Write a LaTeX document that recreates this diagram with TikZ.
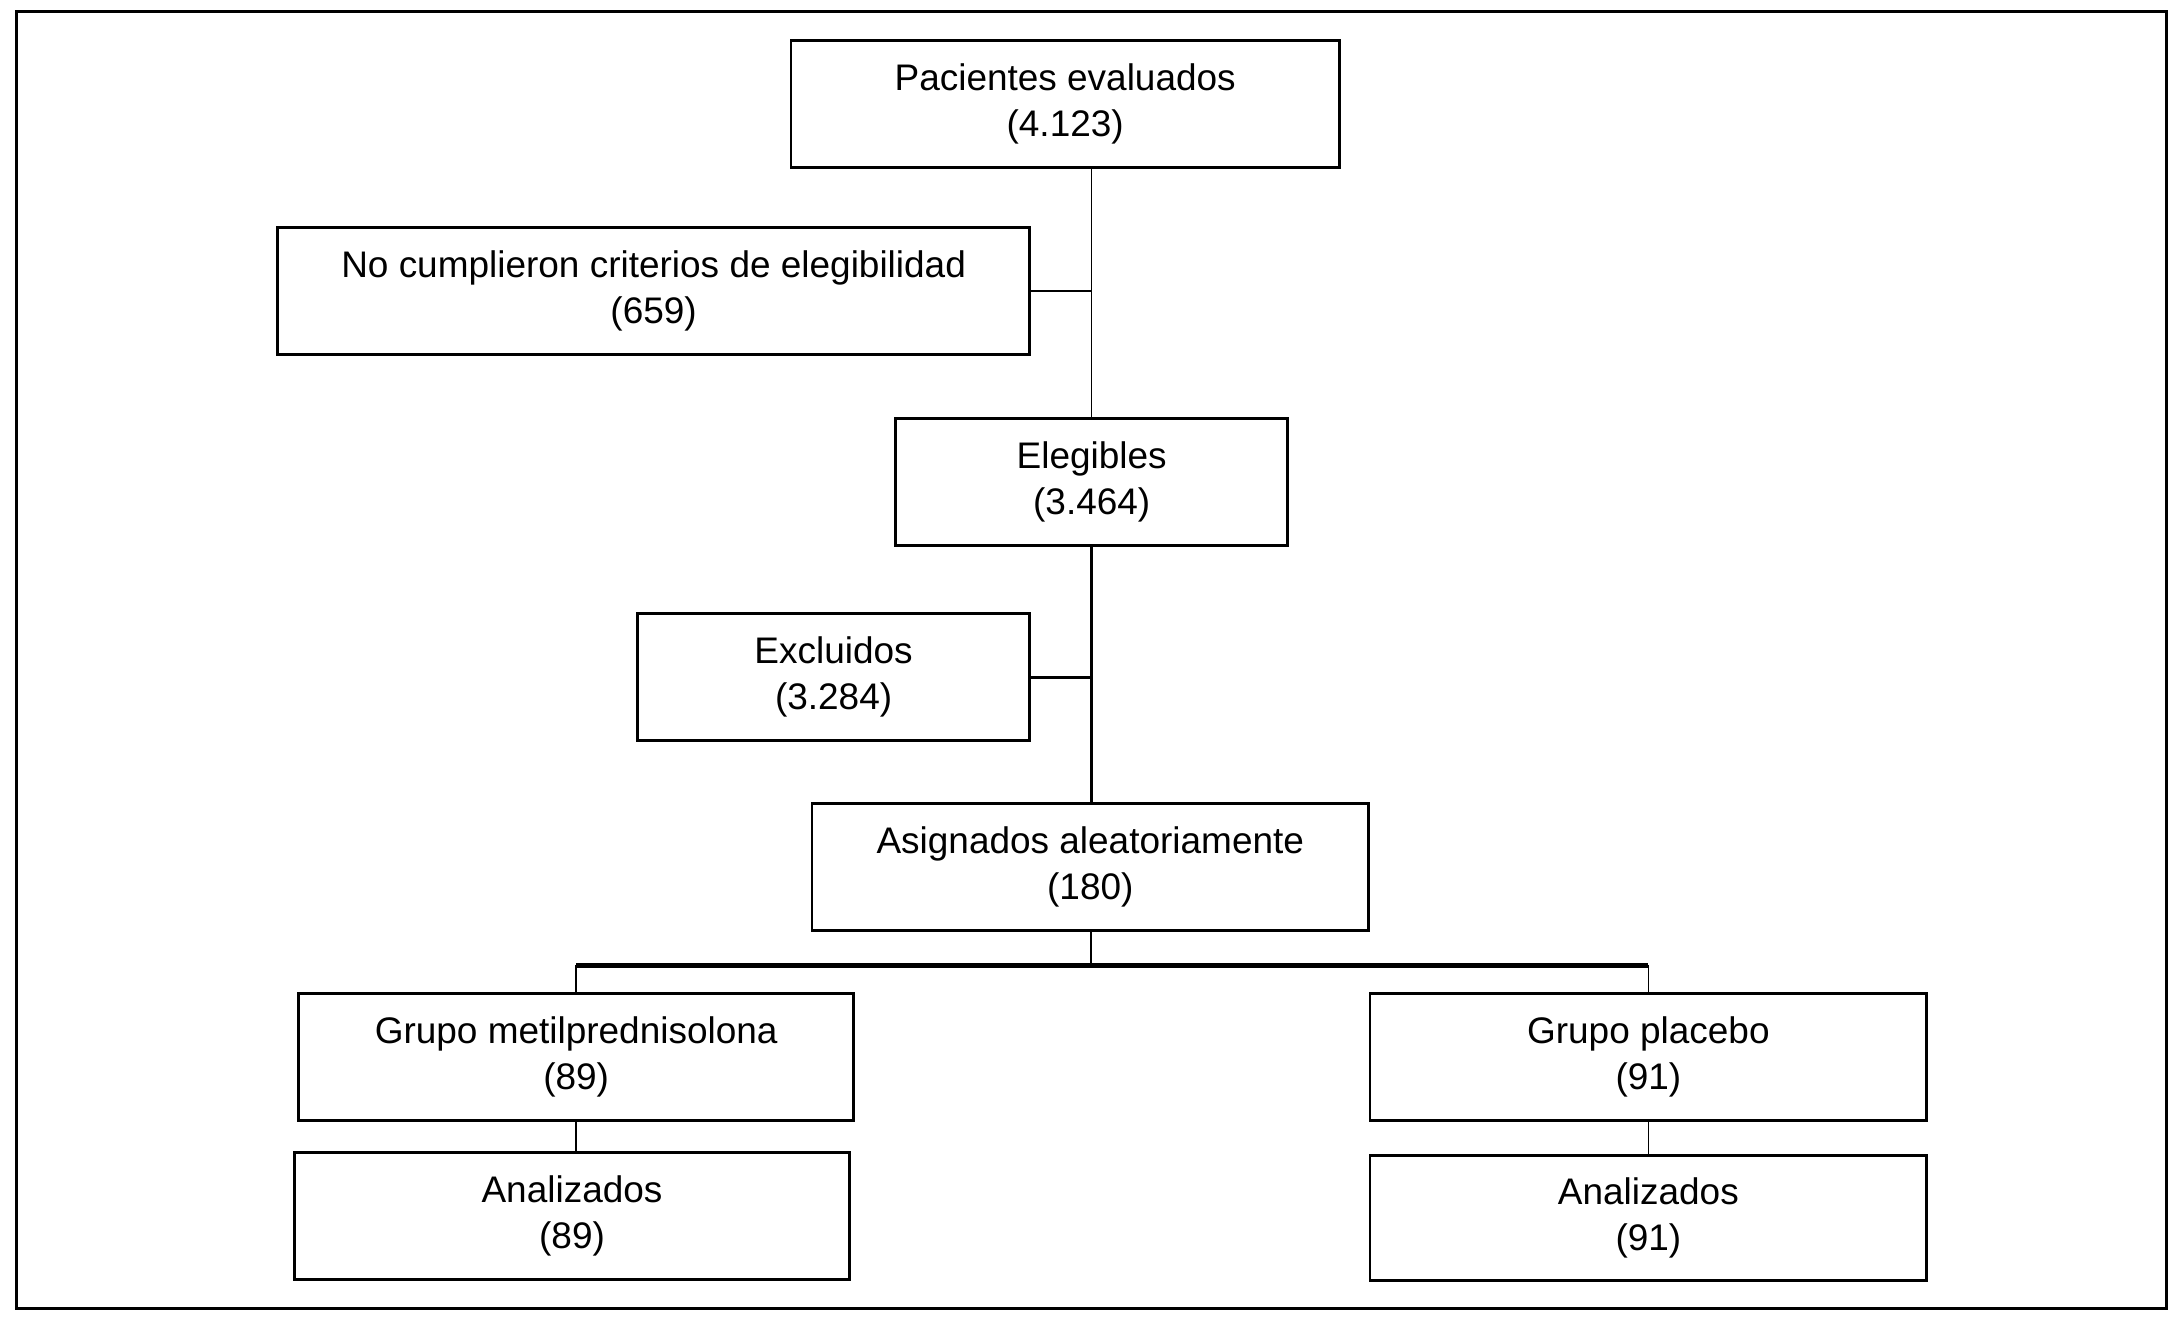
\documentclass[tikz,border=0pt]{standalone}
\usepackage{fontspec}
\setmainfont{Liberation Sans}
\begin{document}
\begin{tikzpicture}[x=1pt,y=-1pt,
  box/.style={draw,line width=2pt,rectangle,inner sep=0pt,minimum height=91pt,align=center,
    font=\fontsize{26.5}{33}\selectfont},
  thinline/.style={line width=1.1pt},
  midline/.style={line width=2pt},
  thickline/.style={line width=3pt}]
\useasboundingbox (0,0) rectangle (1564,954);
\draw[line width=2pt] (12,8) rectangle (1553,938);
\node[box,minimum width=393pt] (p1) at (763.5,74.5) {Pacientes evaluados\\(4.123)};
\node[box,minimum width=539pt] (nc) at (468.5,208.5) {No cumplieron criterios de elegibilidad\\(659)};
\node[box,minimum width=281pt] (el) at (782.5,345.5) {Elegibles\\(3.464)};
\node[box,minimum width=281pt] (ex) at (597.5,485.5) {Excluidos\\(3.284)};
\node[box,minimum width=399pt] (as) at (781.5,621.5) {Asignados aleatoriamente\\(180)};
\node[box,minimum width=398pt] (gm) at (413,757.5) {Grupo metilprednisolona\\(89)};
\node[box,minimum width=399pt] (gp) at (1181.5,757.5) {Grupo placebo\\(91)};
\node[box,minimum width=398pt] (a1) at (410,871.5) {Analizados\\(89)};
\node[box,minimum width=399pt,minimum height=90pt] (a2) at (1181.5,873) {Analizados\\(91)};
\coordinate (br) at (782,692);
\draw[thinline] (p1.south -| el.north) -- (el.north);
\draw[midline] (nc.east) -- (nc.east -| el.north);
\draw[midline] (el.south) -- (as.north -| el.south);
\draw[midline] (ex.east) -- (ex.east -| el.south);
\draw[midline] (as.south -| br) -- (br);
\draw[thickline] (gm.north |- br) -- (gp.north |- br);
\draw[thinline] (gm.north |- br) -- (gm.north);
\draw[thinline] (gp.north |- br) -- (gp.north);
\draw[thinline] (gm.south) -- (gm.south |- a1.north);
\draw[thinline] (gp.south) -- (gp.south |- a2.north);
\end{tikzpicture}
\end{document}
